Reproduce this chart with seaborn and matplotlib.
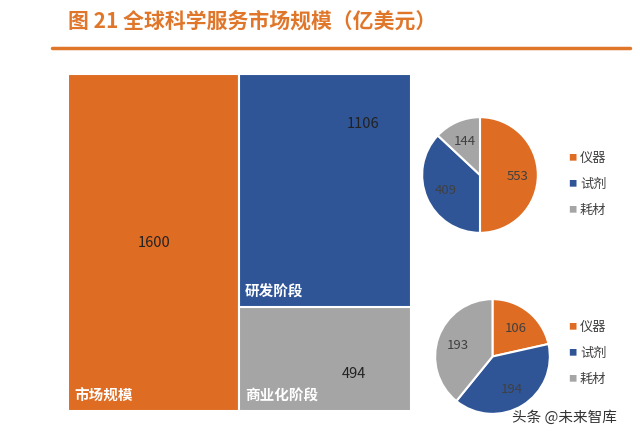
import matplotlib
matplotlib.use("Agg")
import matplotlib.pyplot as plt
import seaborn as sns
from matplotlib.lines import Line2D

# treemap data (亿美元)
market_label = "市场规模"
market_total = 1600
stage_labels = ["研发阶段", "商业化阶段"]
stage_values = [1106, 494]

# pie breakdown per stage
pie_labels = ["仪器", "试剂", "耗材"]
rd_values = [553, 409, 144]
comm_values = [106, 194, 193]

colors = ["#DE6C22", "#2F5597", "#A5A5A5"]
title_color = "#E0762A"

sns.set_theme(style="white")
plt.rcParams['font.family'] = ['Noto Sans CJK SC', 'DejaVu Sans']

W, H = 640, 439
fig = plt.figure(figsize=(W / 100, H / 100), dpi=100)


def box(x0, y0, x1, y1):
    return [x0 / W, 1 - y1 / H, (x1 - x0) / W, (y1 - y0) / H]


# title + underline
fig.text(68 / W, 1 - 21 / H, "图 21 全球科学服务市场规模（亿美元）", color=title_color,
         fontsize=15, fontweight="bold", va="center", ha="left")
fig.add_artist(Line2D([52 / W, 630 / W], [1 - 49 / H, 1 - 49 / H], color=title_color, lw=2.5))

# treemap as stacked bars
ax = fig.add_axes(box(68, 75, 411, 412))
ax.bar([0], [market_total], width=1, color=colors[0], edgecolor="white", linewidth=1.5, align="edge")
ax.bar([1], [stage_values[1]], width=1, color=colors[2], edgecolor="white", linewidth=1.5, align="edge")
ax.bar([1], [stage_values[0]], bottom=[stage_values[1]], width=1, color=colors[1],
       edgecolor="white", linewidth=1.5, align="edge")
ax.set_xlim(0, 2)
ax.set_ylim(0, market_total)
ax.axis("off")

ax.text(0.5, market_total / 2, str(market_total), ha="center", va="center", fontsize=10.5, color="#222222")
ax.text(0.04, 40, market_label, ha="left", va="bottom", fontsize=10.5, fontweight="bold", color="white")
ax.text(1.72, stage_values[1] + stage_values[0] * 0.79, str(stage_values[0]), ha="center", va="center",
        fontsize=10.5, color="#222222")
ax.text(1.03, stage_values[1] + 40, stage_labels[0], ha="left", va="bottom", fontsize=10.5,
        fontweight="bold", color="white")
ax.text(1.67, stage_values[1] * 0.37, str(stage_values[1]), ha="center", va="center", fontsize=10.5,
        color="#222222")
ax.text(1.03, 40, stage_labels[1], ha="left", va="bottom", fontsize=10.5, fontweight="bold", color="white")


def draw_pie(rect, values, legend_x, legend_y0):
    pax = fig.add_axes(rect)
    total = sum(values)
    pax.pie(values, colors=colors, startangle=90, counterclock=False,
            wedgeprops=dict(edgecolor="white", linewidth=1.5),
            autopct=lambda p: f"{round(p * total / 100)}", pctdistance=0.65,
            textprops=dict(color="#404040", fontsize=9.5))
    pax.set_xlim(-1.02, 1.02)
    pax.set_ylim(-1.02, 1.02)
    pax.set_aspect("equal")
    for i, lab in enumerate(pie_labels):
        y = legend_y0 + i * 26
        fig.text(legend_x / W, 1 - y / H, "■", color=colors[i], fontsize=6, ha="center", va="center")
        fig.text((legend_x + 8) / W, 1 - y / H, lab, color="#404040", fontsize=9.5, ha="left", va="center")


draw_pie(box(421, 117, 539, 235), rd_values, 572, 158)
draw_pie(box(434, 299, 551, 416), comm_values, 572, 327)

# watermark
fig.text(512 / W, 1 - 418 / H, "头条 @未来智库", color="#333333", fontsize=10.5, ha="left", va="center")

fig.savefig("out.png", dpi=100, facecolor="white")
